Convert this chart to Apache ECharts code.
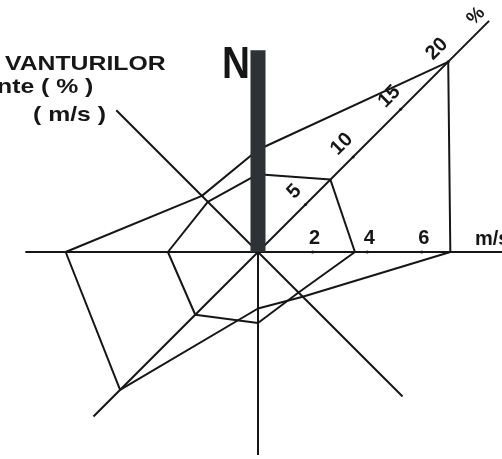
<!DOCTYPE html>
<html>
<head>
<meta charset="utf-8">
<script src="https://cdn.jsdelivr.net/npm/echarts@6/dist/echarts.min.js"></script>
<style>
html, body { margin: 0; padding: 0; background: #fff; }
#main { width: 502px; height: 459px; }
</style>
</head>
<body>
<div id="main"></div>
<script>
// wind directions, clockwise from north
var directions = ['N', 'NE', 'E', 'SE', 'S', 'SW', 'W', 'NW'];
var angles = [0, 45, 90, 135, 180, 225, 270, 315];
// frequency (%) and mean speed (m/s) per direction
var freqPct = [7.6, 20, 14.3, 4.7, 4.2, 14.5, 14.3, 5.9];
var speedMs = [2.85, 3.75, 3.55, 2.1, 2.6, 3.25, 3.3, 2.6];
// scale marks
var pctTicks = [5, 10, 15, 20];
var msTicks = [2, 4, 6];
// how far each direction line reaches (in % units)
var armLen = [15, 24.3, 19, 15.2, 15.1, 17.3, 17.3, 14.9];

var myChart = echarts.init(document.getElementById('main'));

var cx = 258, cy = 252;
var pxPerPct = 13.45, pxPerMs = 27.3;
var pctMax = 25, msMax = 10;
var ink = '#161616';
var font = 'Liberation Sans, Arial, sans-serif';

function closed(vals) {
  var d = vals.map(function (v, i) { return [v, angles[i]]; });
  d.push([vals[0], angles[0]]);
  return d;
}

var series = [];
// thin direction lines (north is the thick bar)
for (var i = 1; i < directions.length; i++) {
  series.push({
    type: 'line', coordinateSystem: 'polar', polarIndex: 0,
    data: [[0, angles[i]], [armLen[i], angles[i]]],
    symbol: 'none', silent: true, z: 1,
    lineStyle: { color: ink, width: 2 }
  });
}
series.push({
  name: 'N', type: 'line', coordinateSystem: 'polar', polarIndex: 0,
  data: [[0, 0], [armLen[0], 0]],
  symbol: 'none', silent: true, z: 5,
  lineStyle: { color: '#2c3235', width: 15, cap: 'butt' }
});
series.push({
  name: 'frecventa', type: 'line', coordinateSystem: 'polar', polarIndex: 0,
  data: closed(freqPct), symbol: 'none', z: 2,
  lineStyle: { color: ink, width: 2 }
});
series.push({
  name: 'viteza', type: 'line', coordinateSystem: 'polar', polarIndex: 1,
  data: closed(speedMs), symbol: 'none', z: 2,
  lineStyle: { color: ink, width: 2 }
});
series.push({
  type: 'scatter', coordinateSystem: 'polar', polarIndex: 0,
  data: pctTicks.map(function (t) { return [t, 45]; }),
  symbolSize: 3, itemStyle: { color: ink, opacity: 1 }, z: 3,
  label: {
    show: true, position: 'inside', rotate: 45, offset: [1, -17],
    formatter: function (p) { return p.value[0]; },
    color: ink, fontSize: 20, fontWeight: 'bold', fontFamily: font,
    textBorderWidth: 0
  }
});
series.push({
  type: 'scatter', coordinateSystem: 'polar', polarIndex: 1,
  data: msTicks.map(function (t) { return [t, 90]; }),
  symbolSize: 3, itemStyle: { color: ink, opacity: 1 }, z: 3,
  label: {
    show: true, position: 'top', distance: 2, offset: [2, 0],
    formatter: function (p) { return p.value[0]; },
    color: ink, fontSize: 20, fontWeight: 'bold', fontFamily: font
  }
});

var txt = { fill: ink, fontWeight: 'bold', fontFamily: font, verticalAlign: 'middle' };

var option = {
  backgroundColor: '#fff',
  animation: false,
  polar: [
    { center: [cx, cy], radius: pctMax * pxPerPct },
    { center: [cx, cy], radius: msMax * pxPerMs }
  ],
  angleAxis: [
    { polarIndex: 0, type: 'value', min: 0, max: 360, startAngle: 90, clockwise: true,
      axisLine: { show: false }, axisTick: { show: false }, axisLabel: { show: false }, splitLine: { show: false } },
    { polarIndex: 1, type: 'value', min: 0, max: 360, startAngle: 90, clockwise: true,
      axisLine: { show: false }, axisTick: { show: false }, axisLabel: { show: false }, splitLine: { show: false } }
  ],
  radiusAxis: [
    { polarIndex: 0, type: 'value', min: 0, max: pctMax,
      axisLine: { show: false }, axisTick: { show: false }, axisLabel: { show: false }, splitLine: { show: false } },
    { polarIndex: 1, type: 'value', min: 0, max: msMax,
      axisLine: { show: false }, axisTick: { show: false }, axisLabel: { show: false }, splitLine: { show: false } }
  ],
  graphic: [
    { type: 'text', x: 5, y: 64.5, scaleX: 1.18, style: Object.assign({ text: 'VANTURILOR', fontSize: 21 }, txt) },
    { type: 'text', x: -3, y: 87, scaleX: 1.18, style: Object.assign({ text: 'nte ( % )', fontSize: 21 }, txt) },
    { type: 'text', x: 33, y: 115, scaleX: 1.18, style: Object.assign({ text: '( m/s )', fontSize: 21 }, txt) },
    { type: 'text', x: 222, y: 66, scaleX: 0.86, style: Object.assign({ text: 'N', fontSize: 45, fill: '#2c3235' }, txt) },
    { type: 'text', x: 475, y: 239, style: Object.assign({ text: 'm/s', fontSize: 20 }, txt) },
    { type: 'text', x: 476, y: 16, rotation: Math.PI / 4,
      style: Object.assign({ text: '%', fontSize: 19, align: 'center' }, txt) }
  ],
  series: series
};
myChart.setOption(option);
</script>
</body>
</html>
